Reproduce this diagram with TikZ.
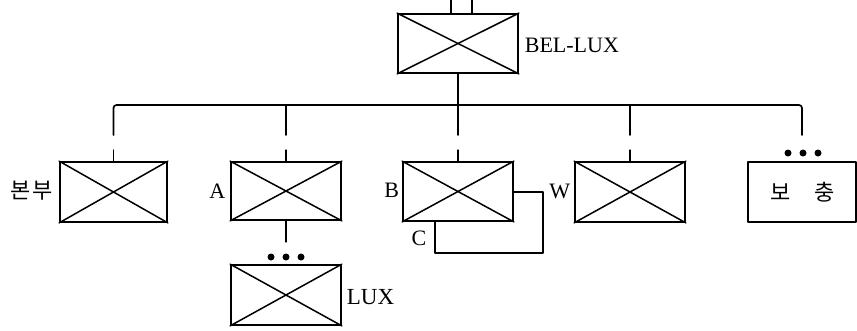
\documentclass[tikz,border=0pt]{standalone}
\usepackage{fontspec}
\setmainfont{Liberation Serif}
\newfontfamily\kr{Noto Sans CJK KR}
\begin{document}
\begin{tikzpicture}[x=1bp,y=-1bp,
  line width=1.7bp, line cap=round, line join=round,
  xbox/.style={draw, rectangle, inner sep=0pt, minimum width=110bp, minimum height=59bp,
    append after command={[every path/.style={}]
      (\tikzlastnode.north west) edge[draw, line width=1.5bp] (\tikzlastnode.south east)
      (\tikzlastnode.south west) edge[draw, line width=1.5bp] (\tikzlastnode.north east)}},
  plainbox/.style={draw, rectangle, inner sep=0pt, minimum width=108bp, minimum height=60bp},
  lbl/.style={inner sep=0pt, font=\fontsize{22bp}{24bp}\selectfont},
  krl/.style={inner sep=0pt, font=\kr\fontsize{22bp}{24bp}\selectfont},
  dot/.style={circle, fill, inner sep=0pt, minimum size=7bp}]
\useasboundingbox (0,0) rectangle (857,330);

% boxes
\node[xbox, minimum width=120bp] (top) at (458,43.5) {};
\node[xbox, minimum width=107bp, minimum height=60bp] (b1) at (113.5,192) {};
\node[xbox, minimum height=58bp] (bA) at (286,191) {};
\node[xbox, minimum height=60bp] (lux) at (286,295) {};
\node[xbox] (bB) at (458,191.5) {};
\node[xbox, minimum height=60bp] (bW) at (630,192) {};
\node[plainbox] (bS) at (802,192) {};

% labels
\node[lbl, anchor=west] (tl) at (524,45) {BEL-LUX};
\node[krl, anchor=east] (l1) at (54,191) {본\hspace{2bp}부};
\node[lbl, anchor=east] (lA) at (226,191) {A};
\node[lbl, anchor=east] (lB) at (400,190) {B};
\node[lbl, anchor=east] (lW) at (571,191) {W};
\node[lbl] (lC) at (419,238) {C};
\node[lbl, anchor=west, font=\fontsize{23bp}{25bp}\selectfont] (lL) at (346,297) {LUX};
\node[krl] (lS) at (803,192) {보\hspace{24bp}충};

% top input stubs
\coordinate (t1) at (451,0);
\coordinate (t2) at (472,0);
\draw (t1) -- (t1 |- top.north);
\draw (t2) -- (t2 |- top.north);

% bus
\coordinate (busL) at (113.5,105);
\coordinate (busR) at (802,105);
\draw (top.south) -- (458,135);
\draw[rounded corners=3bp] (113.5,135) -- (busL) -- (busR) -- (802,135);
\foreach \x in {286,630} \draw (\x,105) -- (\x,135);

% stubs to boxes
\foreach \n in {b1,bA,bB,bW} \draw (\n.north) -- ++(0,-11);

% A to LUX
\draw (bA.south) -- ++(0,21);
\node[dot] (d1) at (271,257) {};
\node[dot] (d2) at (286,257) {};
\node[dot] (d3) at (301,257) {};

% dots above supplementary
\node[dot] (d4) at (788,153) {};
\node[dot] (d5) at (803,153) {};
\node[dot] (d6) at (818,153) {};

% B loop
\coordinate (c1) at (435,253);
\coordinate (c2) at (543,253);
\coordinate (c3) at (543,192);
\draw (bB.south -| c1) -- (c1) -- (c2) -- (c3) -- (c3 -| bB.east);
\end{tikzpicture}
\end{document}
